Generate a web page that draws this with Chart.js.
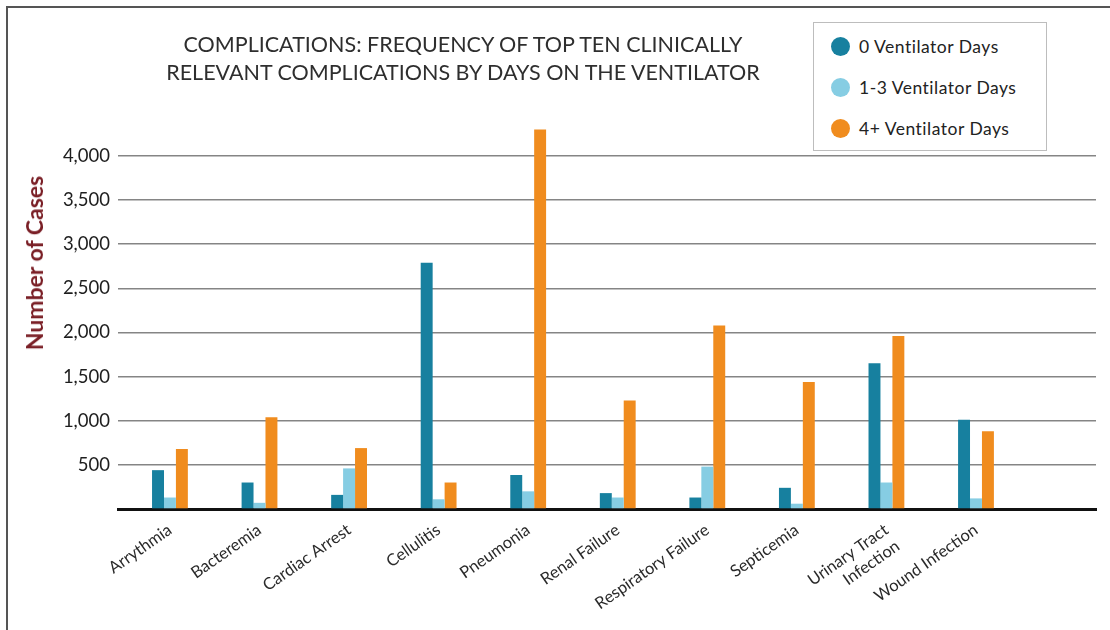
<!DOCTYPE html>
<html>
<head>
<meta charset="utf-8">
<script src="https://cdn.jsdelivr.net/npm/chart.js@4"></script>
<style>
  html, body { margin: 0; padding: 0; background: #fff; }
  body { width: 1110px; height: 630px; position: relative; overflow: hidden; font-family: Lato, "Open Sans", sans-serif; }
  #frame { position: absolute; left: 6px; top: 6px; width: 1200px; height: 700px; border-top: 2px solid #555; border-left: 2px solid #555; }
  #chartBox { position: absolute; left: 0; top: 0; width: 1110px; height: 630px; }
  #title { position: absolute; left: 113px; top: 30px; width: 700px; text-align: center; font-size: 21.5px; line-height: 28px; color: #2e2e2e; }
  #yTitle { position: absolute; left: 34px; top: 263px; width: 0; height: 0; }
  #yTitle span { position: absolute; left: 0; top: 0; transform: translate(-50%, -50%) rotate(-90deg); white-space: nowrap; font-size: 23px; font-weight: bold; color: #7a1f26; }
  #legend { position: absolute; left: 813px; top: 22px; width: 234px; height: 129px; border: 1px solid #bdbdbd; background: #fff; box-sizing: border-box; }
  .item { position: absolute; left: 17px; height: 22px; font-size: 17.5px; letter-spacing: 0.5px; color: #222; line-height: 22px; white-space: nowrap; }
  .dot { display: inline-block; width: 19px; height: 19px; border-radius: 50%; vertical-align: middle; margin-right: 9px; position: relative; top: -2px; }
</style>
</head>
<body>
<div id="frame"></div>
<div id="chartBox"><canvas id="complicationsChart" width="1110" height="630"></canvas></div>
<div id="title">COMPLICATIONS: FREQUENCY OF TOP TEN CLINICALLY<br>RELEVANT COMPLICATIONS BY DAYS ON THE VENTILATOR</div>
<div id="yTitle"><span>Number of Cases</span></div>
<div id="legend"></div>
<script>
const categories = [
    "Arrythmia", "Bacteremia", "Cardiac Arrest", "Cellulitis", "Pneumonia",
    "Renal Failure", "Respiratory Failure", "Septicemia", ["Urinary Tract", "Infection"], "Wound Infection"
];
const vent0 = [440, 300, 160, 2790, 385, 180, 130, 240, 1650, 1010];
const vent1to3 = [130, 70, 460, 110, 200, 130, 480, 60, 300, 120];
const vent4plus = [680, 1040, 690, 300, 4300, 1230, 2080, 1440, 1960, 880];
const yTicks = [0, 500, 1000, 1500, 2000, 2500, 3000, 3500, 4000];

const seriesNames = ["0 Ventilator Days", "1-3 Ventilator Days", "4+ Ventilator Days"];
const seriesColors = ["#17809f", "#86cde3", "#f08c1e"];

const ctx = document.getElementById("complicationsChart").getContext("2d");

// bars sit on a linear x axis so the groups can leave the empty strip on the right
function toPoints(values) {
    return values.map((v, i) => ({ x: i, y: v }));
}

const chart = new Chart(ctx, {
    type: 'bar',
    data: {
        datasets: [vent0, vent1to3, vent4plus].map((values, i) => ({
            label: seriesNames[i],
            data: toPoints(values),
            backgroundColor: seriesColors[i],
            borderWidth: 0,
            categoryPercentage: 0.4,
            barPercentage: 1.0
        }))
    },
    options: {
        responsive: false,
        animation: false,
        layout: { padding: { left: 0, top: 125, right: 14, bottom: 0 } },
        plugins: {
            legend: { display: false },
            title: { display: false },
            tooltip: { enabled: false }
        },
        scales: {
            x: {
                type: 'linear',
                offset: false,
                min: -0.58,
                max: 10.34,
                afterBuildTicks: s => { s.ticks = categories.map((c, i) => ({ value: i })); },
                afterFit: s => { s.height = 121; },
                grid: { display: false },
                border: { display: true, color: '#111', width: 3 },
                ticks: {
                    autoSkip: false,
                    minRotation: 35,
                    maxRotation: 35,
                    padding: 3,
                    color: '#2a2a2a',
                    font: { family: 'Lato', size: 16.5 },
                    callback: v => categories[v]
                }
            },
            y: {
                min: 0,
                max: 4350,
                afterBuildTicks: s => { s.ticks = yTicks.map(v => ({ value: v })); },
                afterFit: s => { s.width = 118; },
                border: { display: false },
                grid: { color: '#858585', lineWidth: 1.4, drawTicks: false },
                ticks: {
                    padding: 8,
                    color: '#1e1e1e',
                    font: { family: 'Lato', size: 18.5 },
                    callback: v => v === 0 ? '' : v.toLocaleString('en-US')
                }
            }
        }
    }
});

// legend box built from the chart's datasets
const legendEl = document.getElementById("legend");
chart.data.datasets.forEach((ds, i) => {
    const item = document.createElement("div");
    item.className = "item";
    item.style.top = (13 + i * 41) + "px";
    const dot = document.createElement("span");
    dot.className = "dot";
    dot.style.background = ds.backgroundColor;
    item.appendChild(dot);
    item.appendChild(document.createTextNode(ds.label));
    legendEl.appendChild(item);
});
</script>
</body>
</html>
